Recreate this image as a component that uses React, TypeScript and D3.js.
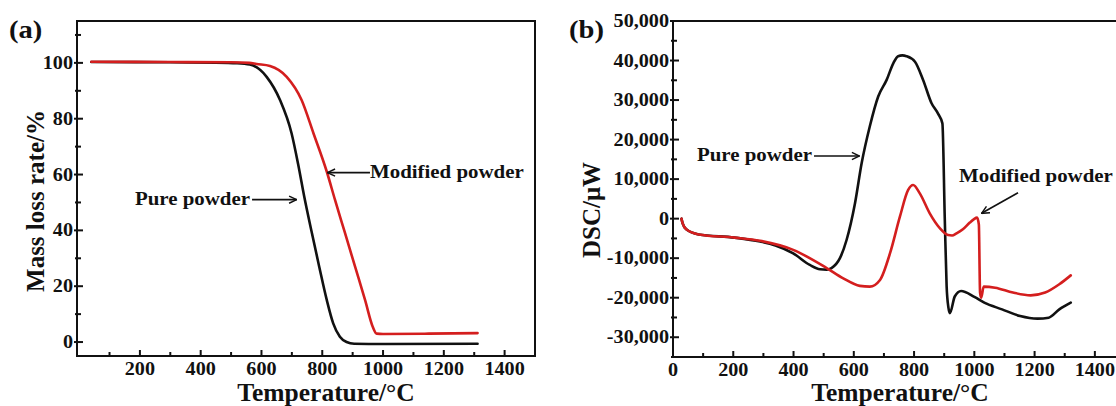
import React from 'react';
import * as d3 from 'd3';

// (a) TGA: temperature (°C) and mass loss rate (%)
const tgaPureT = [40, 300, 450, 520, 562, 617, 661, 699, 721, 740, 765, 790, 815, 836, 858, 880, 905, 1000, 1311];
const tgaPureV = [100.3, 100.2, 100.1, 99.9, 99.4, 95, 86.7, 74.8, 63.5, 52.5, 39.5, 27, 15, 6.7, 1.9, 0, -0.6, -0.7, -0.6];
const tgaModT = [40, 300, 500, 560, 584, 628, 683, 732, 771, 815, 842, 875, 908, 941, 966, 979, 1000, 1150, 1311];
const tgaModV = [100.4, 100.3, 100.2, 100, 99.6, 98.9, 95, 86.7, 74.8, 61, 50.9, 39, 27, 15, 5.5, 3.0, 2.9, 3.0, 3.2];

// (b) DSC: temperature (°C) and heat flow (µW)
const dscPureT = [28, 32, 44, 85, 204, 289, 340, 399, 454, 488, 510, 526, 554, 576, 604, 626, 653, 681, 709, 731, 747, 761, 775, 803, 830, 858, 880, 894, 902, 908, 914, 919, 935, 956, 1000, 1033, 1092, 1152, 1210, 1247, 1282, 1320];
const dscPureV = [0, -1200, -2700, -4000, -4800, -5800, -6800, -8800, -11700, -12800, -12900, -12500, -10000, -5400, 3900, 14000, 23300, 30900, 35100, 39300, 41100, 41300, 41100, 39700, 35100, 29200, 26500, 24100, -300, -17000, -22500, -23900, -19700, -18300, -19800, -21250, -22950, -24640, -25300, -25050, -22950, -21250];
const dscModT = [28, 32, 44, 85, 204, 289, 399, 510, 565, 620, 653, 687, 720, 753, 780, 797, 819, 852, 886, 913, 926, 941, 962, 985, 998, 1009, 1015, 1019, 1023, 1031, 1069, 1128, 1187, 1235, 1282, 1320];
const dscModV = [0, -1200, -2700, -4000, -4800, -5600, -7900, -12500, -15100, -17000, -17200, -15500, -8800, 500, 7200, 8500, 6400, 1350, -2450, -4150, -4250, -3700, -2700, -1000, -180, 250, -1500, -18700, -20000, -17200, -17460, -18700, -19400, -18700, -16600, -14350];

const tgaXTicks = [200, 400, 600, 800, 1000, 1200, 1400];
const tgaXMinor = [100, 300, 500, 700, 900, 1100, 1300];
const tgaYTicks = [0, 20, 40, 60, 80, 100];
const tgaYMinor = [10, 30, 50, 70, 90, 110];
const dscXTicks = [0, 200, 400, 600, 800, 1000, 1200, 1400];
const dscXMinor = [100, 300, 500, 700, 900, 1100, 1300];
const dscYTicks = [-30000, -20000, -10000, 0, 10000, 20000, 30000, 40000, 50000];
const dscYMinor = [-35000, -25000, -15000, -5000, 5000, 15000, 25000, 35000, 45000];

const FONT = '"Liberation Serif", "Times New Roman", serif';
const RED = '#d41e1e';
const INK = '#111';

const zip = (a, b) => a.map((v, i) => [v, b[i]]);
const fmtSigned = v => (v < 0 ? '-' : '') + d3.format(',')(Math.abs(v));

function Txt({ x, y, size, sx = 1, anchor = 'start', baseline = 'auto', children }) {
  return (
    <text transform={`translate(${x},${y}) scale(${sx},1)`} fontSize={size} fontWeight="bold"
      fontFamily={FONT} textAnchor={anchor} dominantBaseline={baseline} fill={INK}>
      {children}
    </text>
  );
}

function Panel(props) {
  const { xDomain, xRange, yDomain, yRange, xTicks, xMinor, yTicks, yMinor, yFmt,
    series, notes, tag, tagX, yTitle, yTitleX, yTitleY, xTitleX, openRight } = props;
  const x = d3.scaleLinear().domain(xDomain).range(xRange);
  const y = d3.scaleLinear().domain(yDomain).range(yRange);
  const [x0, x1] = xRange;
  const [yb, yt] = yRange;
  const line = d3.line().x(d => x(d[0])).y(d => y(d[1])).curve(d3.curveMonotoneX);
  const frame = openRight
    ? `M${x1},${yb}H${x0}V${yt}H${x1}`
    : `M${x0},${yt}V${yb}H${x1}V${yt}Z`;

  return (
    <g>
      <path d={frame} fill="none" stroke={INK} strokeWidth={2} />
      {xTicks.map(t => (
        <g key={'xt' + t}>
          <line x1={x(t)} x2={x(t)} y1={yb + 1} y2={yb - 6} stroke={INK} strokeWidth={2} />
          <Txt x={x(t)} y={yb + 19} size={18} sx={1.12} anchor="middle">{String(t)}</Txt>
        </g>
      ))}
      {xMinor.map(t => (
        <line key={'xm' + t} x1={x(t)} x2={x(t)} y1={yb} y2={yb - 4} stroke={INK} strokeWidth={2} />
      ))}
      {yTicks.map(t => (
        <g key={'yt' + t}>
          <line x1={x0 - 3} x2={x0 + 6} y1={y(t)} y2={y(t)} stroke={INK} strokeWidth={2} />
          <Txt x={x0 - 4} y={y(t)} size={18} sx={1.12} anchor="end" baseline="central">{yFmt(t)}</Txt>
        </g>
      ))}
      {yMinor.map(t => (
        <line key={'ym' + t} x1={x0 - 2} x2={x0 + 4} y1={y(t)} y2={y(t)} stroke={INK} strokeWidth={2} />
      ))}
      {series.map((s, i) => (
        <path key={i} d={line(zip(s.t, s.v))} fill="none" stroke={s.color} strokeWidth={2.6}
          strokeLinejoin="round" strokeLinecap="round" />
      ))}
      {notes.map((n, i) => {
        const tx = x(n.tail[0]), ty = y(n.tail[1]);
        return (
          <g key={i}>
            <line x1={tx} y1={ty} x2={x(n.tip[0])} y2={y(n.tip[1])} stroke={INK} strokeWidth={1.6}
              markerEnd="url(#chev)" />
            <Txt x={tx + n.dx} y={ty + n.dy} size={19} sx={1.1} anchor={n.anchor}>{n.text}</Txt>
          </g>
        );
      })}
      <Txt x={tagX} y={38} size={26} sx={1.1}>{tag}</Txt>
      <text transform={`translate(${yTitleX},${yTitleY}) rotate(-90)`} fontSize={25}
        fontWeight="bold" fontFamily={FONT} textAnchor="middle" fill={INK}>{yTitle}</text>
      <Txt x={xTitleX} y={401} size={25} sx={1.02} anchor="middle">Temperature/°C</Txt>
    </g>
  );
}

export default function App() {
  return (
    <svg width={1116} height={406} viewBox="0 0 1116 406"
      style={{ position: 'absolute', left: 0, top: 0, background: '#fff', display: 'block' }}>
      <defs>
        <marker id="chev" viewBox="0 0 10 10" refX={9.5} refY={5} markerWidth={9} markerHeight={10}
          markerUnits="userSpaceOnUse" orient="auto">
          <path d="M1,1 L9.5,5 L1,9" fill="none" stroke={INK} strokeWidth={1.6} />
        </marker>
      </defs>
      <Panel
        xDomain={[-7, 1500]} xRange={[77, 535]} yDomain={[-5, 115]} yRange={[356, 21]}
        xTicks={tgaXTicks} xMinor={tgaXMinor} yTicks={tgaYTicks} yMinor={tgaYMinor} yFmt={v => String(v)}
        series={[{ t: tgaPureT, v: tgaPureV, color: INK }, { t: tgaModT, v: tgaModV, color: RED }]}
        notes={[
          { text: 'Pure powder', tail: [569, 51], tip: [716, 51], dx: -2, dy: 5, anchor: 'end' },
          { text: 'Modified powder', tail: [957, 60.7], tip: [817, 60.7], dx: 0, dy: 5.5, anchor: 'start' },
        ]}
        tag="(a)" tagX={9} yTitle="Mass loss rate/%" yTitleX={44} yTitleY={201} xTitleX={326}
      />
      <Panel
        xDomain={[0, 1500]} xRange={[673, 1125]} yDomain={[-35000, 50000]} yRange={[357, 21]}
        xTicks={dscXTicks} xMinor={dscXMinor} yTicks={dscYTicks} yMinor={dscYMinor} yFmt={fmtSigned}
        series={[{ t: dscPureT, v: dscPureV, color: INK }, { t: dscModT, v: dscModV, color: RED }]}
        notes={[
          { text: 'Pure powder', tail: [468, 15850], tip: [619, 15850], dx: -2, dy: 5.5, anchor: 'end' },
          { text: 'Modified powder', tail: [1145, 6560], tip: [1024, 1350], dx: -59, dy: -11, anchor: 'start' },
        ]}
        tag="(b)" tagX={569} yTitle="DSC/μW" yTitleX={600} yTitleY={210} xTitleX={900} openRight
      />
    </svg>
  );
}
